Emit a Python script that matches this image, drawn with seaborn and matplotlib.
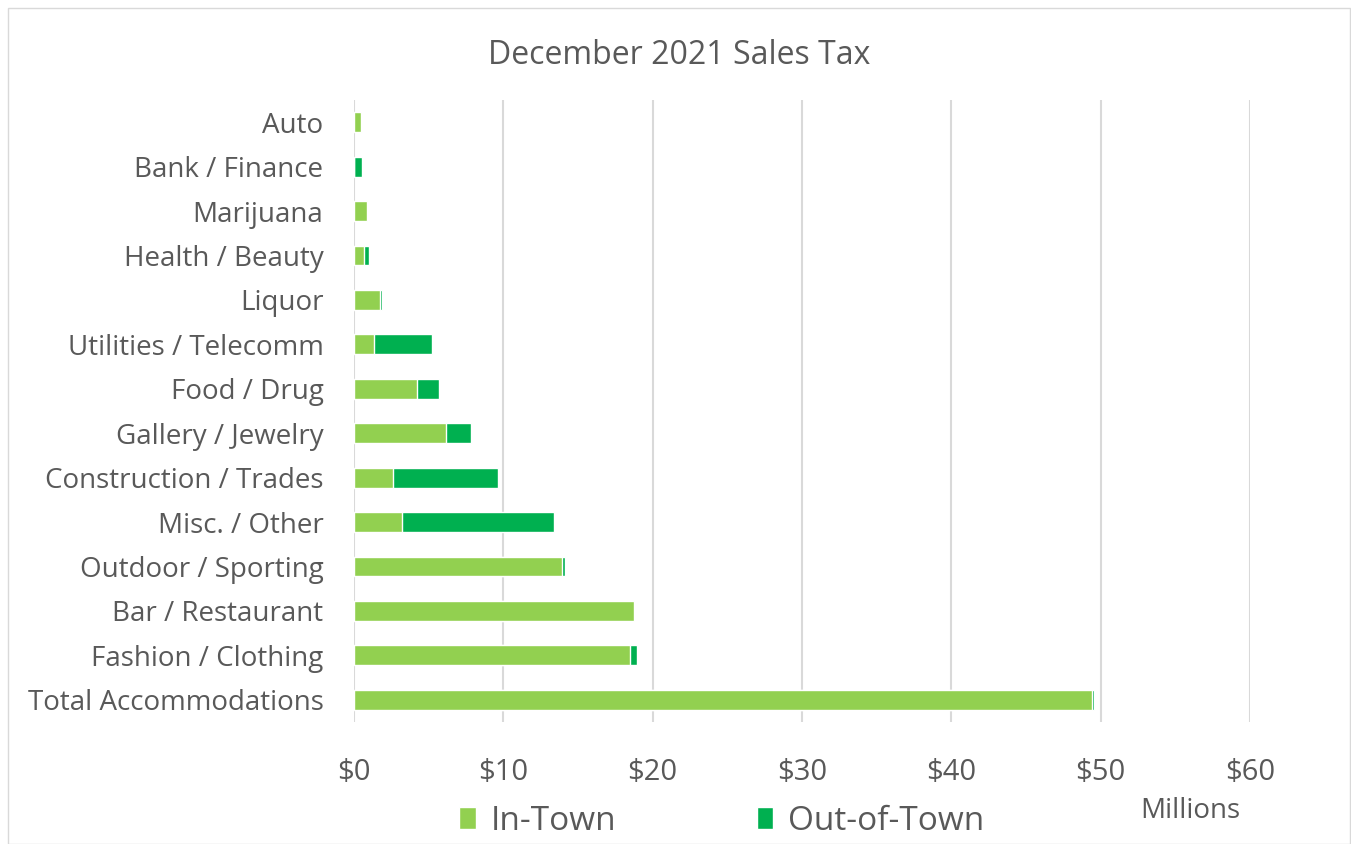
import matplotlib
matplotlib.use("Agg")
import matplotlib.pyplot as plt
import seaborn as sns
import pandas as pd
from matplotlib.patches import Patch, Rectangle

categories = ["Auto", "Bank / Finance", "Marijuana", "Health / Beauty", "Liquor",
              "Utilities / Telecomm", "Food / Drug", "Gallery / Jewelry",
              "Construction / Trades", "Misc. / Other", "Outdoor / Sporting",
              "Bar / Restaurant", "Fashion / Clothing", "Total Accommodations"]
in_town = [0.49, 0.0, 0.87, 0.67, 1.77, 1.34, 4.24, 6.18, 2.63, 3.21, 13.92, 18.74, 18.47, 49.42]
out_town = [0.0, 0.56, 0.0, 0.31, 0.10, 3.86, 1.47, 1.63, 6.99, 10.21, 0.20, 0.0, 0.48, 0.14]
xticks = [0, 10, 20, 30, 40, 50, 60]
xtick_labels = ["$0", "$10", "$20", "$30", "$40", "$50", "$60"]

LIGHT = "#92D050"
DARK = "#00B050"
TXT = "#595959"

sns.set_theme(style="white")
plt.rcParams['font.family'] = ['Open Sans', 'DejaVu Sans']

df = pd.DataFrame({"cat": categories, "in": in_town, "out": out_town})
df["total"] = df["in"] + df["out"]

fig = plt.figure(figsize=(13.51, 8.44), dpi=100)
ax = fig.add_axes([354/1351, 1 - 722/844, (1250-354)/1351, (722-100)/844])

sns.barplot(data=df, y="cat", x="total", order=categories, color=DARK,
            saturation=1, width=0.45, ax=ax, orient="h")
sns.barplot(data=df, y="cat", x="in", order=categories, color=LIGHT,
            saturation=1, width=0.45, ax=ax, orient="h")

ax.set_xlim(0, 60)
ax.set_xticks(xticks)
ax.set_xticklabels(xtick_labels, fontsize=21, color=TXT)
ax.tick_params(axis='y', labelsize=20, labelcolor=TXT, length=0, pad=22)
ax.tick_params(axis='x', length=0, pad=26)
ax.set_xlabel("")
ax.set_ylabel("")
ax.xaxis.grid(True, color="#D9D9D9", linewidth=1.5)
ax.set_axisbelow(True)
for s in ax.spines.values():
    s.set_visible(False)

fig.text(679/1351, 1 - 55/844, "December 2021 Sales Tax", ha="center", va="center",
         fontsize=23, color=TXT)
fig.text(1190/1351, 1 - 811/844, "Millions", ha="center", va="center",
         fontsize=20, color=TXT)

handles = [Patch(facecolor=LIGHT, label="In-Town"), Patch(facecolor=DARK, label="Out-of-Town")]
leg = fig.legend(handles=handles, loc="center", bbox_to_anchor=(722/1351, 1 - 821/844),
                 ncol=2, frameon=False, fontsize=24, handlelength=0.5, handleheight=0.65,
                 columnspacing=4.2, handletextpad=0.45)
for t in leg.get_texts():
    t.set_color(TXT)

fig.patches.append(Rectangle((8/1351, 0.0), 1 - 9/1351, 1 - 8/844, transform=fig.transFigure,
                             fill=False, edgecolor="#D9D9D9", linewidth=1))

fig.savefig("out.png", dpi=100)
